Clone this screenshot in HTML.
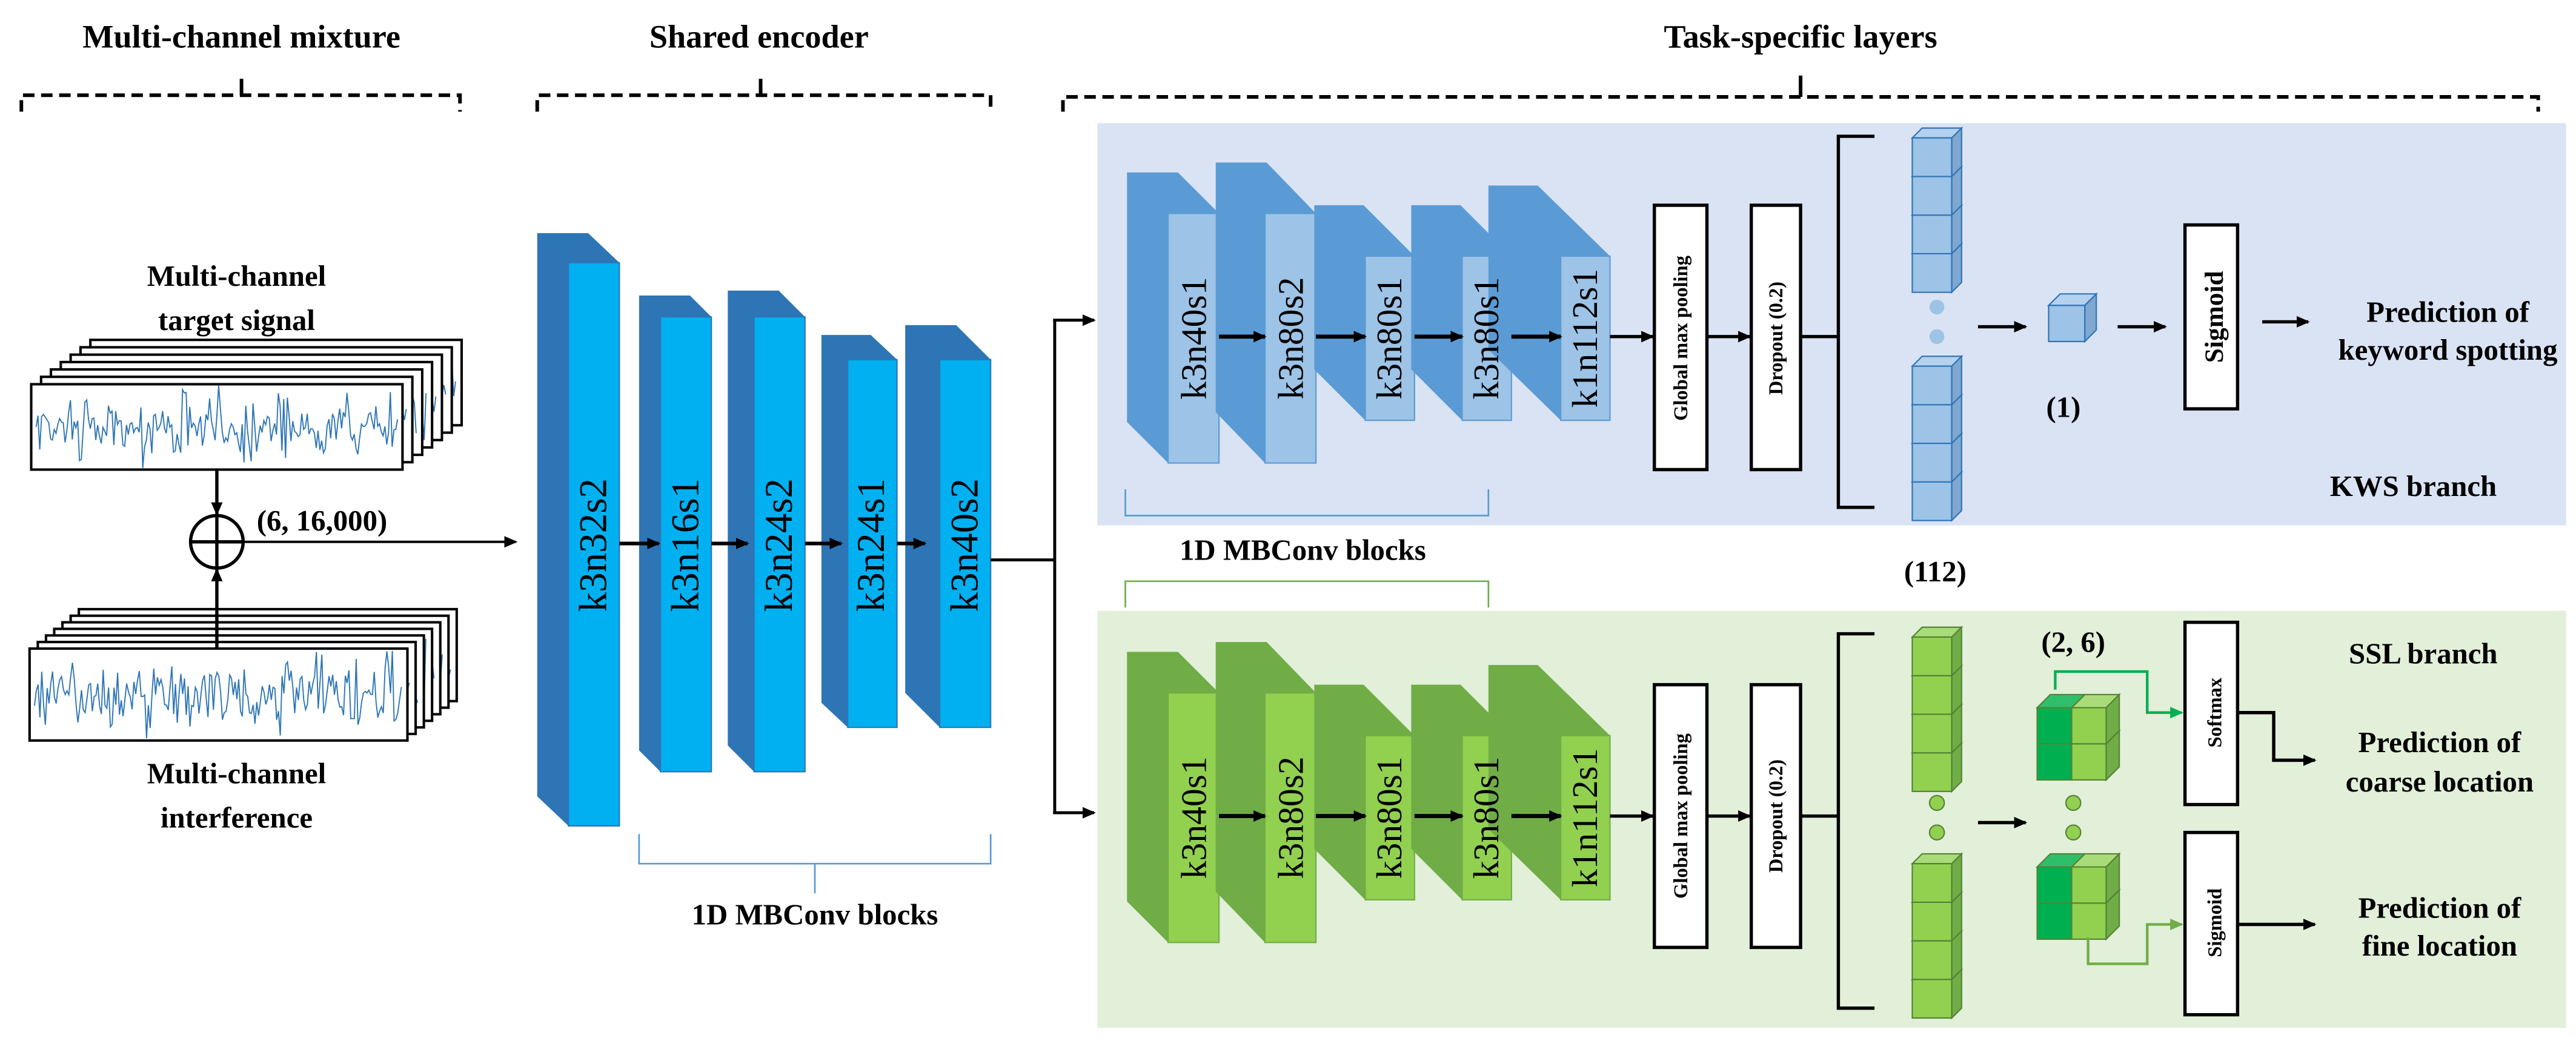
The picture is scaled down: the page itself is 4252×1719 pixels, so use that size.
<!DOCTYPE html>
<html><head><meta charset="utf-8"><style>
html,body{margin:0;padding:0;background:#fff}
svg{display:block;font-family:"Liberation Serif","Times New Roman",serif}
svg text{font-family:"Liberation Serif","Times New Roman",serif}
svg .bd text, svg text.bd{font-family:"Liberation Serif","DejaVu Serif Condensed","DejaVu Serif",serif;font-weight:bold}
</style></head><body>
<svg id="s" xmlns="http://www.w3.org/2000/svg" width="4252" height="1719" viewBox="0 0 1568 634" preserveAspectRatio="none" font-family="Liberation Serif, serif">
<defs>
<marker id="ah" markerWidth="8" markerHeight="8" refX="7" refY="4" orient="auto" markerUnits="userSpaceOnUse"><path d="M0,0.5 L8,4 L0,7.5 z" fill="#000"/></marker>
<marker id="ag" markerWidth="8" markerHeight="8" refX="7" refY="4" orient="auto" markerUnits="userSpaceOnUse"><path d="M0,0.5 L8,4 L0,7.5 z" fill="#00b050"/></marker>
<marker id="ag2" markerWidth="8" markerHeight="8" refX="7" refY="4" orient="auto" markerUnits="userSpaceOnUse"><path d="M0,0.5 L8,4 L0,7.5 z" fill="#70ad47"/></marker>
</defs>
<rect x="668" y="75" width="894" height="245" fill="#dae3f3"/>
<rect x="668" y="372" width="894" height="254" fill="#e2efd9"/>
<g class="bd" font-size="20" text-anchor="middle" font-weight="bold">
<text x="147" y="29">Multi-channel mixture</text>
<text x="462" y="29">Shared encoder</text>
<text x="1096" y="29">Task-specific layers</text>
</g>
<g stroke="#000" stroke-width="2.2" fill="none">
<path d="M13,68 V58 H280 V68" stroke-dasharray="7,4"/><path d="M147,58 V48"/>
<path d="M327,68 V58 H603 V68" stroke-dasharray="7,4"/><path d="M463,58 V48"/>
<path d="M647,68 V59 H1545 V68" stroke-dasharray="7,4"/><path d="M1096,59 V46"/>
</g>
<g id="dyn"></g>
<g class="bd" font-size="18" text-anchor="middle" font-weight="bold">
<text x="144" y="174">Multi-channel</text>
<text x="144" y="201">target signal</text>
<text x="144" y="477">Multi-channel</text>
<text x="144" y="504">interference</text>
<text x="196" y="323">(6, 16,000)</text>
</g>
<circle cx="132" cy="330" r="16" fill="#fff" stroke="#000" stroke-width="2"/>
<path d="M116,330 H148 M132,314 V346" stroke="#000" stroke-width="2"/>
<path d="M132,286 V313" stroke="#000" stroke-width="2" marker-end="url(#ah)"/>
<path d="M132,395 V347" stroke="#000" stroke-width="2" marker-end="url(#ah)"/>
<path d="M148,330 H314" stroke="#000" stroke-width="1.5" marker-end="url(#ah)"/>
<g font-size="24" text-anchor="middle">
<text transform="translate(369,332) rotate(-90)">k3n32s2</text>
<text transform="translate(425,332) rotate(-90)">k3n16s1</text>
<text transform="translate(482,332) rotate(-90)">k3n24s2</text>
<text transform="translate(538,332) rotate(-90)">k3n24s1</text>
<text transform="translate(595,332) rotate(-90)">k3n40s2</text>
</g>
<path d="M389,508 V526 H603 V508 M496,526 V544" stroke="#5b9bd5" stroke-width="1" fill="none"/>
<text class="bd" x="496" y="563" font-size="18" text-anchor="middle" font-weight="bold">1D MBConv blocks</text>
<path d="M603,341 H642 M642,195 V495" stroke="#000" stroke-width="1.8" fill="none"/>
<path d="M641,195 H666" stroke="#000" stroke-width="1.8" marker-end="url(#ah)"/>
<path d="M641,495 H666" stroke="#000" stroke-width="1.8" marker-end="url(#ah)"/>
<g font-size="22" text-anchor="middle">
<text transform="translate(734,206) rotate(-90)">k3n40s1</text>
<text transform="translate(793,206) rotate(-90)">k3n80s2</text>
<text transform="translate(853,206) rotate(-90)">k3n80s1</text>
<text transform="translate(912,206) rotate(-90)">k3n80s1</text>
<text transform="translate(972,206) rotate(-90)">k1n112s1</text>
<text transform="translate(734,498) rotate(-90)">k3n40s1</text>
<text transform="translate(793,498) rotate(-90)">k3n80s2</text>
<text transform="translate(853,498) rotate(-90)">k3n80s1</text>
<text transform="translate(912,498) rotate(-90)">k3n80s1</text>
<text transform="translate(972,498) rotate(-90)">k1n112s1</text>
</g>
<g fill="#fff" stroke="#000" stroke-width="2">
<rect x="1007" y="125" width="32" height="161"/><rect x="1066" y="125" width="30" height="161"/>
<rect x="1007" y="417" width="32" height="160"/><rect x="1066" y="417" width="30" height="160"/>
<rect x="1330" y="137" width="32" height="112"/>
<rect x="1330" y="379" width="32" height="111"/><rect x="1330" y="507" width="32" height="111"/>
</g>
<g class="bd" font-size="12" text-anchor="middle" font-weight="bold">
<text transform="translate(1027,206) rotate(-90)">Global max pooling</text>
<text transform="translate(1085,206) rotate(-90)">Dropout (0.2)</text>
<text transform="translate(1027,497) rotate(-90)">Global max pooling</text>
<text transform="translate(1085,497) rotate(-90)">Dropout (0.2)</text>
<text transform="translate(1352,434) rotate(-90)">Softmax</text>
<text transform="translate(1352,562) rotate(-90)">Sigmoid</text>
</g>
<text class="bd" transform="translate(1353,193) rotate(-90)" font-size="16" text-anchor="middle" font-weight="bold">Sigmoid</text>
<g stroke="#000" stroke-width="2" fill="none">
<path d="M1096,205 H1119 M1141,83 H1119 V309 H1141"/>
<path d="M1096,497 H1119 M1141,386 H1119 V614 H1141"/>
<path d="M1362,434 H1384 V463"/>
</g>
<g stroke="#000" stroke-width="2" marker-end="url(#ah)">
<path d="M980,205 H1006"/><path d="M1039,205 H1065"/>
<path d="M980,497 H1006"/><path d="M1039,497 H1065"/>
<path d="M1204,199 H1233"/><path d="M1289,199 H1318"/><path d="M1377,196 H1405"/>
<path d="M1204,501 H1233"/>
<path d="M1383,463 H1409"/><path d="M1362,563 H1409"/>
</g>
<path d="M1251,420 V409 H1307 V434 H1328" stroke="#00b050" stroke-width="1.6" fill="none" marker-end="url(#ag)"/>
<path d="M1271,571 V587 H1307 V563 H1328" stroke="#70ad47" stroke-width="1.6" fill="none" marker-end="url(#ag2)"/>
<path d="M685,298 V314 H906 V298" stroke="#5b9bd5" stroke-width="1" fill="none"/>
<path d="M685,370 V354 H906 V370" stroke="#70ad47" stroke-width="1" fill="none"/>
<g class="bd" font-size="18" text-anchor="middle" font-weight="bold">
<text x="793" y="341">1D MBConv blocks</text>
<text x="1178" y="354">(112)</text>
<text x="1256" y="254">(1)</text>
<text x="1262" y="397">(2, 6)</text>
<text x="1469" y="302">KWS branch</text>
<text x="1475" y="404">SSL branch</text>
<text x="1490" y="196">Prediction of</text>
<text x="1490" y="219">keyword spotting</text>
<text x="1485" y="458">Prediction of</text>
<text x="1485" y="482">coarse location</text>
<text x="1485" y="559">Prediction of</text>
<text x="1485" y="582">fine location</text>
</g>
</svg>
<script>
(function(){
var NS="http://www.w3.org/2000/svg",g=document.getElementById('dyn');
function el(t,a){var e=document.createElementNS(NS,t);for(var k in a)e.setAttribute(k,a[k]);g.appendChild(e);return e;}
var seed=7;function r(){seed=(seed*16807)%2147483647;return seed/2147483647;}
function stack(fx,fy,w,h,n,dx,dy,amp){
 for(var i=n-1;i>=0;i--){var x=fx+i*dx,y=fy-i*dy;
  el('rect',{x:x,y:y,width:w,height:h,fill:'#fff',stroke:'#000','stroke-width':1.5});
  var pts=[],cy=y+h/2;
  var sx=i==0?x+3:x+w-dx-1;var ex=x+w-3;
  for(var X=sx;X<=ex;X+=1.1){pts.push(X.toFixed(1)+','+(cy+(r()-0.5)*amp*(0.5+0.5*Math.sin(X*0.3))+ (r()-0.5)*amp*0.6).toFixed(1));}
  el('polyline',{points:pts.join(' '),fill:'none',stroke:'#2e75b6','stroke-width':0.7});
 }
}
stack(19,234,226,52,7,6,4.5,34);
stack(18,395,230,56,7,5,4,40);
function blk(dx,top,fl,ft,fr,fb,dark,light){
 var d=fl-dx,v=ft-top;
 el('polygon',{points:[dx+','+top,(fr-d)+','+top,fr+','+ft,fr+','+fb,fl+','+fb,dx+','+(fb-v)].join(' '),fill:dark});
 el('rect',{x:fl,y:ft,width:fr-fl,height:fb-ft,fill:light,stroke:dark,'stroke-width':0.8});
}
var E='#2e75b6',EL='#00b0f0';
blk(327,142,346,160,377,503,E,EL);blk(389,180,402,193,433,470,E,EL);blk(443,177,459,193,490,470,E,EL);
blk(500,204,516,219,546,443,E,EL);blk(551,198,572,219,603,443,E,EL);
var A=[[686,105,711,130,742,282],[740,99,770,130,801,282],[800,125,831,156,861,256],[859,125,890,156,920,256],[906,113,950,156,980,256]];
A.forEach(function(b){blk(b[0],b[1],b[2],b[3],b[4],b[5],'#5b9bd5','#9dc3e6');});
A.forEach(function(b){blk(b[0],b[1]+292,b[2],b[3]+292,b[4],b[5]+292,'#70ad47','#92d050');});
[[377,389],[433,443],[490,500],[546,551]].forEach(function(a){el('path',{d:'M'+a[0]+',331 H'+(a[1]+12),stroke:'#000','stroke-width':2.2,'marker-end':'url(#ah)'});});
[[742,770],[801,831],[861,890],[920,950]].forEach(function(a){
 el('path',{d:'M'+a[0]+',205 H'+a[1],stroke:'#000','stroke-width':2.5,'marker-end':'url(#ah)'});
 el('path',{d:'M'+a[0]+',497 H'+a[1],stroke:'#000','stroke-width':2.5,'marker-end':'url(#ah)'});
});
function cube(x,y,w,h,o,f,s,t,st){
 el('polygon',{points:[x+','+y,(x+o)+','+(y-o),(x+w+o)+','+(y-o),(x+w)+','+y].join(' '),fill:t,stroke:st,'stroke-width':0.8});
 el('polygon',{points:[(x+w)+','+y,(x+w+o)+','+(y-o),(x+w+o)+','+(y+h-o),(x+w)+','+(y+h)].join(' '),fill:s,stroke:st,'stroke-width':0.8});
 el('rect',{x:x,y:y,width:w,height:h,fill:f,stroke:st,'stroke-width':0.8});
}
function col(x,y,n,f,s,t,st){for(var i=n-1;i>=0;i--)cube(x,y+i*23.5,24,23.5,6,f,s,t,st);}
col(1164,84,4,'#9dc3e6','#7fa7d0','#b4d1ee','#2e75b6');col(1164,223,4,'#9dc3e6','#7fa7d0','#b4d1ee','#2e75b6');
col(1164,388,4,'#92d050','#70ad47','#a9dc78','#548235');col(1164,526,4,'#92d050','#70ad47','#a9dc78','#548235');
cube(1247,186,22,22,7,'#9dc3e6','#7fa7d0','#b4d1ee','#2e75b6');
el('circle',{cx:1179,cy:187,r:4.5,fill:'#9dc3e6'});el('circle',{cx:1179,cy:205,r:4.5,fill:'#9dc3e6'});
[[1179,489],[1179,507],[1262,489],[1262,507]].forEach(function(p){el('circle',{cx:p[0],cy:p[1],r:4.5,fill:'#92d050',stroke:'#548235','stroke-width':0.8});});
function c22(x,y){var w=21,h=22,o=8;
 for(var rr=1;rr>=0;rr--){
  cube(x+w,y+rr*h,w,h,o,'#92d050','#70ad47','#a9dc78','#548235');
  el('rect',{x:x,y:y+rr*h,width:w,height:h,fill:'#00b050',stroke:'#548235','stroke-width':0.8});
 }
 el('polygon',{points:[x+','+y,(x+o)+','+(y-o),(x+w+o)+','+(y-o),(x+w)+','+y].join(' '),fill:'#2fbf6a',stroke:'#548235','stroke-width':0.8});
}
c22(1240,431);c22(1240,528);
})();
</script>
</body></html>
